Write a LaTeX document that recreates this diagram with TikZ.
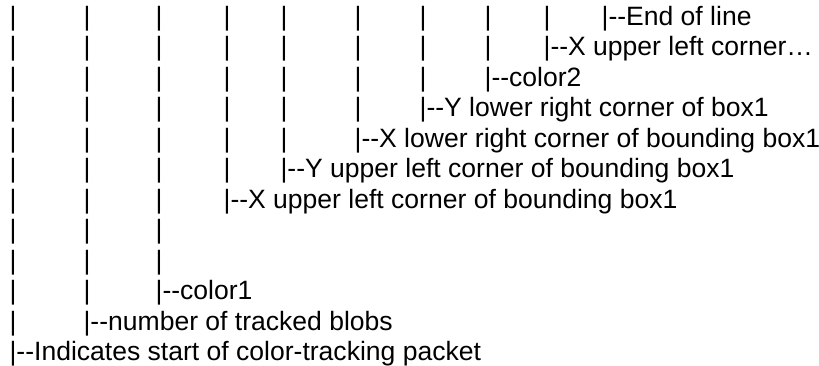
\documentclass[tikz,border=0pt]{standalone}
\usepackage{fontspec}
\setmainfont{Liberation Sans}
\begin{document}
\begin{tikzpicture}[x=0.75pt,y=-0.75pt,
  txt/.style={anchor=base west, inner sep=0pt, outer sep=0pt,
              font=\fontsize{19.9}{22}\selectfont, text=black}]
\useasboundingbox (0,0) rectangle (819,366);
\def\colx{{13,87,159,227,284,358,423,488,547,605}}
% plain bars: row / number of bars
\foreach \r/\n in {1/9,2/8,3/7,4/6,5/5,6/4,7/3,8/3,9/3,10/2,11/1}{
  \foreach \c in {1,...,\n}{
    \pgfmathsetmacro\xx{\colx[\c-1]-3.4}
    \pgfmathsetmacro\yy{25.3+30.5*(\r-1)}
    \node[txt] (bar-\r-\c) at (\xx,\yy) {|};
  }
}
% labelled branches: row / column / text
\foreach \r/\c/\t in {
  1/10/End of line,
  2/9/X upper left corner…,
  3/8/color2,
  4/7/Y lower right corner of box1,
  5/6/X lower right corner of bounding box1,
  6/5/Y upper left corner of bounding box1,
  7/4/X upper left corner of bounding box1,
  10/3/color1,
  11/2/number of tracked blobs,
  12/1/Indicates start of color-tracking packet}{
    \pgfmathsetmacro\xx{\colx[\c-1]-3.4}
    \pgfmathsetmacro\yy{25.3+30.5*(\r-1)}
    \node[txt] (lab-\r) at (\xx,\yy) {|-{}-\t};
}
\end{tikzpicture}
\end{document}
